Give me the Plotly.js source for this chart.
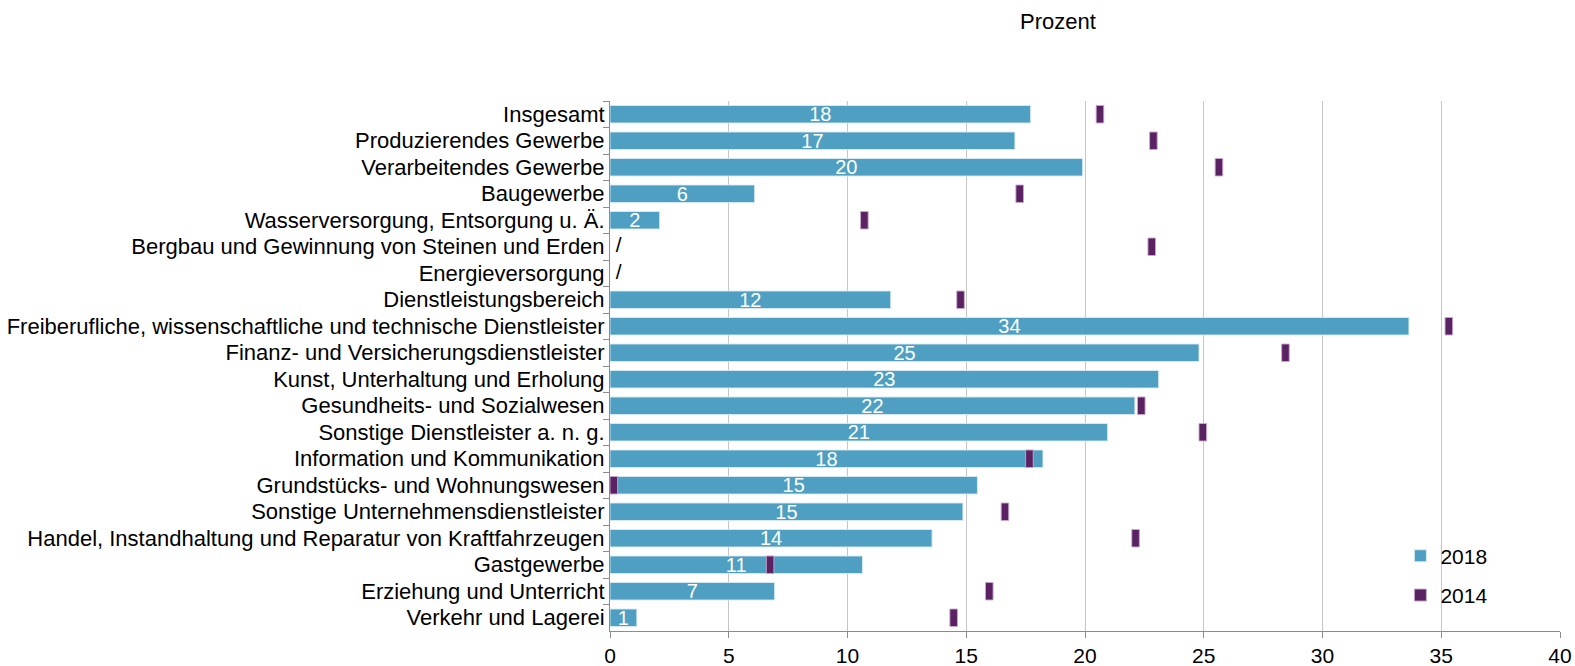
<!DOCTYPE html>
<html>
<head>
<meta charset="utf-8">
<script src="https://cdn.plot.ly/plotly-3.0.1.min.js"></script>
<style>html,body{margin:0;padding:0;background:#fff;}#chart{width:1575px;height:666px;}</style>
</head>
<body>
<div id="chart"></div>
<script>
const categories = [
  "Insgesamt",
  "Produzierendes Gewerbe",
  "Verarbeitendes Gewerbe",
  "Baugewerbe",
  "Wasserversorgung, Entsorgung u. Ä.",
  "Bergbau und Gewinnung von Steinen und Erden",
  "Energieversorgung",
  "Dienstleistungsbereich",
  "Freiberufliche, wissenschaftliche und technische Dienstleister",
  "Finanz- und Versicherungsdienstleister",
  "Kunst, Unterhaltung und Erholung",
  "Gesundheits- und Sozialwesen",
  "Sonstige Dienstleister a. n. g.",
  "Information und Kommunikation",
  "Grundstücks- und Wohnungswesen",
  "Sonstige Unternehmensdienstleister",
  "Handel, Instandhaltung und Reparatur von Kraftfahrzeugen",
  "Gastgewerbe",
  "Erziehung und Unterricht",
  "Verkehr und Lagerei"
];
const values2018 = [17.71, 17.05, 19.9, 6.09, 2.09, null, null, 11.82, 33.64, 24.8, 23.1, 22.1, 20.95, 18.23, 15.47, 14.86, 13.56, 10.63, 6.93, 1.13];
const values2014 = [20.63, 22.88, 25.64, 17.25, 10.71, 22.81, null, 14.76, 35.32, 28.44, null, 22.37, 24.96, 17.66, 0.16, 16.63, 22.13, 6.74, 15.97, 14.47];
const labels2018 = ["18","17","20","6","2","/","/","12","34","25","23","22","21","18","15","15","14","11","7","1"];
const xTicks = [0, 5, 10, 15, 20, 25, 30, 35, 40];

const FONT = "Liberation Sans, Arial, sans-serif";
const C2018 = "#4E9FC1";
const C2014 = "#5B2263";
const markW = 0.32;

const missing = categories.map((c, i) => values2018[i] === null);

const trace2018 = {
  type: "bar", orientation: "h", name: "2018", legendgroup: "a",
  y: categories, x: values2018,
  text: labels2018.map((t, i) => missing[i] ? "" : t),
  textposition: "inside", insidetextanchor: "middle", constraintext: "none", textangle: 0,
  insidetextfont: {family: FONT, size: 20, color: "#ffffff"},
  marker: {color: C2018, line: {color: "rgba(215,235,243,0.9)", width: 1}},
  hoverinfo: "x+y"
};
const trace2014 = {
  type: "bar", orientation: "h", name: "2014", legendgroup: "b",
  y: categories,
  x: values2014.map(v => v === null ? null : markW),
  base: values2014.map(v => v === null ? null : v - markW / 2),
  marker: {color: C2014, line: {color: "rgba(200,170,205,0.9)", width: 1}},
  hoverinfo: "y"
};
const traceMissing = {
  type: "scatter", mode: "text", showlegend: false,
  y: categories.filter((c, i) => missing[i]),
  x: categories.filter((c, i) => missing[i]).map(() => 0),
  text: labels2018.filter((t, i) => missing[i]),
  texttemplate: " %{text}",
  textposition: "middle right",
  textfont: {family: FONT, size: 21, color: "#000000"},
  hoverinfo: "skip"
};

const layout = {
  width: 1575, height: 666,
  paper_bgcolor: "#ffffff", plot_bgcolor: "#ffffff",
  margin: {l: 610, r: 15, t: 101, b: 35},
  barmode: "overlay", bargap: 0.34,
  font: {family: FONT, size: 21, color: "#000000"},
  title: {text: "Prozent", font: {family: FONT, size: 22, color: "#000000"},
          x: 1058 / 1575, xanchor: "center", xref: "container", y: 1 - 21 / 666, yanchor: "middle", yref: "container"},
  xaxis: {
    range: [0, 40], tickvals: xTicks, ticktext: xTicks.map(String),
    showgrid: true, gridcolor: "#C6C6C6", gridwidth: 1,
    showline: true, linecolor: "#8C8C8C", linewidth: 1,
    ticks: "outside", ticklen: 6, tickcolor: "#8C8C8C",
    zeroline: false, tickfont: {family: FONT, size: 21, color: "#000000"},
    fixedrange: true
  },
  yaxis: {
    type: "category", autorange: "reversed",
    showline: true, linecolor: "#8C8C8C", linewidth: 1,
    ticks: "outside", ticklen: 6, tickcolor: "#8C8C8C", tickson: "boundaries",
    showgrid: false, zeroline: false,
    tickfont: {family: FONT, size: 22, color: "#000000"},
    fixedrange: true
  },
  legend: {
    x: 0.832, y: 0.18, xanchor: "left", yanchor: "top",
    bgcolor: "rgba(255,255,255,0)", font: {family: FONT, size: 21, color: "#000000"},
    traceorder: "grouped", tracegroupgap: 9, itemwidth: 30
  },
  showlegend: true
};

Plotly.newPlot("chart", [trace2018, trace2014, traceMissing], layout, {displayModeBar: false, staticPlot: true});
</script>
</body>
</html>
